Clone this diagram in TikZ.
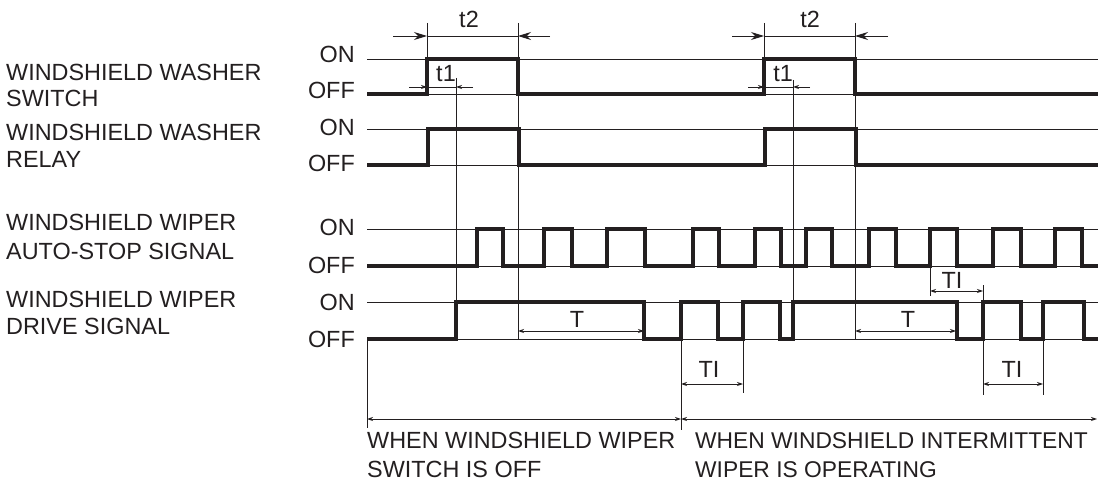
\documentclass[tikz,border=0pt]{standalone}
\usepackage{fontspec}
\setmainfont{Liberation Sans}
\usetikzlibrary{arrows.meta}
\definecolor{ink}{RGB}{35,31,32}
\begin{document}
\begin{tikzpicture}[x=1pt,y=-1pt,
  txt/.style={inner sep=0pt,text=ink,font=\fontsize{23.4}{28}\selectfont},
  lab/.style={txt,anchor=base west},
  lvl/.style={txt,anchor=base east},
  dimlab/.style={txt,anchor=base},
  thin/.style={line width=0.9pt,ink},
  wave/.style={line width=3.2pt,ink,line join=miter},
  dimarr/.style={line width=0.9pt,ink,-{Stealth[length=6pt,width=4pt]}},
  dimboth/.style={line width=0.9pt,ink,{Stealth[length=6pt,width=4pt]}-{Stealth[length=6pt,width=4pt]}},
  bigarr/.style={line width=0.9pt,ink,-{Stealth[length=13pt,width=8pt]}}]
\useasboundingbox (0,0) rectangle (1098,481);

% left labels
\node[lab] (l1a) at (6,81) {WINDSHIELD WASHER};
\node[lab] (l1b) at (6,107) {SWITCH};
\node[lab] (l2a) at (6,141) {WINDSHIELD WASHER};
\node[lab] (l2b) at (6,168) {RELAY};
\node[lab] (l3a) at (6,231) {WINDSHIELD WIPER};
\node[lab] (l3b) at (6,259) {AUTO-STOP SIGNAL};
\node[lab] (l4a) at (6,307) {WINDSHIELD WIPER};
\node[lab] (l4b) at (6,334) {DRIVE SIGNAL};

% ON / OFF
\node[lvl] (on1) at (355,63) {ON};
\node[lvl] (off1) at (355,99) {OFF};
\node[lvl] (on2) at (355,136) {ON};
\node[lvl] (off2) at (355,172) {OFF};
\node[lvl] (on3) at (355,236) {ON};
\node[lvl] (off3) at (355,273) {OFF};
\node[lvl] (on4) at (355,310) {ON};
\node[lvl] (off4) at (355,347) {OFF};

% thin level lines
\foreach \y in {59,94,129,165,229,266,302,339}
  \draw[thin] (367,\y) -- (1098,\y);

% thin vertical lines
\draw[thin] (427,23) -- (427,59);
\draw[thin] (518,23) -- (518,339);
\draw[thin] (456,78) -- (456,302);
\draw[thin] (764,23) -- (764,59);
\draw[thin] (855,23) -- (855,339);
\draw[thin] (793,80) -- (793,302);
\draw[thin] (367,339) -- (367,428);
\draw[thin] (681,339) -- (681,430);
\draw[thin] (743,339) -- (743,393);
\draw[thin] (930,266) -- (930,296);
\draw[thin] (983,285) -- (983,395);
\draw[thin] (1043,339) -- (1043,395);

% waveforms
\draw[wave] (367,94) -- (427,94) -- (427,59) -- (518,59) -- (518,94) -- (764,94) -- (764,59) -- (855,59) -- (855,94) -- (1098,94);
\draw[wave] (367,165) -- (428,165) -- (428,129) -- (519,129) -- (519,165) -- (765,165) -- (765,129) -- (856,129) -- (856,165) -- (1098,165);
\draw[wave] (367,266)
  \foreach \a/\b in {477/503,544/572,607/645,693/719,755/781,806/832,869/896,930/957,993/1021,1055/1082}
    { -- (\a,266) -- (\a,229) -- (\b,229) -- (\b,266) } -- (1098,266);
\draw[wave] (367,339)
  \foreach \a/\b in {456/644,681/718,743/780,793/957,983/1021,1043/1084}
    { -- (\a,339) -- (\a,302) -- (\b,302) -- (\b,339) } -- (1098,339);

% t2 dimensions
\draw[bigarr] (393,36) -- (427,36);
\draw[bigarr] (550,36) -- (518,36);
\draw[thin] (427,36) -- (518,36);
\node[dimlab] (t2a) at (469,28) {t2};
\draw[bigarr] (732,36) -- (764,36);
\draw[bigarr] (888,36) -- (855,36);
\draw[thin] (764,36) -- (855,36);
\node[dimlab] (t2b) at (810,28) {t2};

% t1 dimensions
\draw[dimarr] (409,87) -- (427,87);
\draw[dimarr] (473,87) -- (456,87);
\draw[thin] (427,87) -- (456,87);
\node[dimlab] (t1a) at (446,82) {t1};
\draw[dimarr] (748,87) -- (764,87);
\draw[dimarr] (810,87) -- (793,87);
\draw[thin] (764,87) -- (793,87);
\node[dimlab] (t1b) at (783,82) {t1};

% T dimensions
\draw[dimboth] (518,331) -- (644,331);
\node[dimlab] (Ta) at (577,327) {T};
\draw[dimboth] (855,331) -- (956,331);
\node[dimlab] (Tb) at (908,327) {T};

% TI dimensions
\draw[dimboth] (930,291) -- (983,291);
\node[dimlab] (TIa) at (952,288) {TI};
\draw[dimboth] (681,384) -- (743,384);
\node[dimlab] (TIb) at (709,377) {TI};
\draw[dimboth] (983,384) -- (1043,384);
\node[dimlab] (TIc) at (1012,377) {TI};

% bottom ranges
\draw[dimboth] (367,419) -- (681,419);
\draw[dimboth] (681,419) -- (1097,419);
\node[lab] (b1a) at (367,448) {WHEN WINDSHIELD WIPER};
\node[lab] (b1b) at (367,477) {SWITCH IS OFF};
\node[lab,font=\fontsize{22.8}{28}\selectfont] (b2a) at (695,448) {WHEN WINDSHIELD INTERMITTENT};
\node[lab,font=\fontsize{22.8}{28}\selectfont] (b2b) at (695,477) {WIPER IS OPERATING};
\end{tikzpicture}
\end{document}
